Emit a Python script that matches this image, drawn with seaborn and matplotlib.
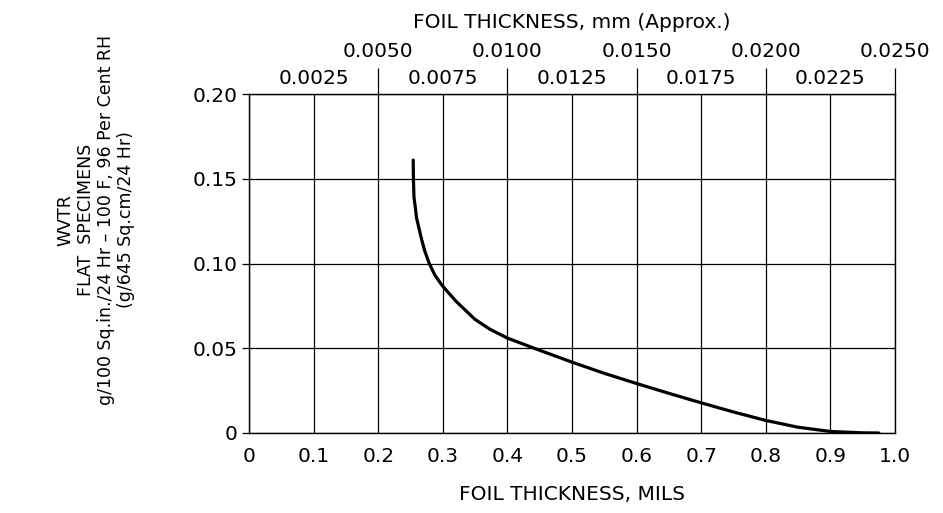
import matplotlib
matplotlib.use("Agg")
import matplotlib.pyplot as plt
import seaborn as sns
import pandas as pd

# curve (thickness in mils, WVTR)
mils = [0.2542, 0.2545, 0.2554, 0.2575, 0.2593, 0.263, 0.267, 0.272, 0.279, 0.288,
        0.299, 0.321, 0.350, 0.373, 0.400, 0.445, 0.500, 0.550, 0.600, 0.650,
        0.700, 0.750, 0.800, 0.850, 0.900, 0.950, 0.975]
wvtr = [0.161, 0.150, 0.139, 0.133, 0.127, 0.121, 0.1145, 0.1075, 0.100, 0.093,
        0.087, 0.0775, 0.0670, 0.0612, 0.0560, 0.0495, 0.0418, 0.0352, 0.0292, 0.0234,
        0.0178, 0.0124, 0.0074, 0.0034, 0.0009, 0.0001, 0.0]

x_ticks = [0, 0.1, 0.2, 0.3, 0.4, 0.5, 0.6, 0.7, 0.8, 0.9, 1.0]
x_labels = ["0", "0.1", "0.2", "0.3", "0.4", "0.5", "0.6", "0.7", "0.8", "0.9", "1.0"]
y_ticks = [0, 0.05, 0.10, 0.15, 0.20]
y_labels = ["0", "0.05", "0.10", "0.15", "0.20"]

# top axis in mm (approx, 1 mil ~ 0.025 mm on this chart)
mm_major = [0.0050, 0.0100, 0.0150, 0.0200, 0.0250]
mm_minor = [0.0025, 0.0075, 0.0125, 0.0175, 0.0225]

sns.set_style("white")
plt.rcParams["font.family"] = ["DejaVu Sans"]
plt.rcParams["text.color"] = "black"
plt.rcParams["axes.labelcolor"] = "black"
plt.rcParams["xtick.color"] = "black"
plt.rcParams["ytick.color"] = "black"

df = pd.DataFrame({"mils": mils, "wvtr": wvtr})

fig = plt.figure(figsize=(9.43, 5.13), dpi=100)
ax = fig.add_axes([249 / 943, 1 - 433 / 513, (895 - 249) / 943, (433 - 94) / 513])

sns.lineplot(data=df, x="mils", y="wvtr", ax=ax, color="black", linewidth=2.3,
             sort=False, estimator=None)
ax.lines[0].set_solid_joinstyle("round")

ax.set_xlim(0, 1.0)
ax.set_ylim(0, 0.20)
ax.set_xticks(x_ticks)
ax.set_xticklabels(x_labels, fontsize=14.5)
ax.set_yticks(y_ticks)
ax.set_yticklabels(y_labels, fontsize=14.5)
ax.tick_params(axis="x", length=0, pad=10)
ax.tick_params(axis="y", length=5, width=0.9, pad=3, direction="out", left=True)
ax.grid(True, color="black", linewidth=0.9)
ax.set_axisbelow(True)
for side in ["left", "bottom", "top", "right"]:
    ax.spines[side].set_visible(True)
    ax.spines[side].set_color("black")
    ax.spines[side].set_linewidth(1.0)
ax.set_xlabel("FOIL THICKNESS, MILS", fontsize=14.5, labelpad=14)
ax.set_ylabel("")

top = ax.twiny()
top.set_xlim(0, 0.025)
top.set_xticks(mm_major)
top.set_xticklabels([f"{v:.4f}" for v in mm_major], fontsize=14.5)
top.set_xticks(mm_minor, minor=True)
top.set_xticklabels([f"{v:.4f}" for v in mm_minor], minor=True, fontsize=14.5)
top.tick_params(axis="x", which="major", length=19, width=0.9, pad=5, direction="out", top=True)
top.tick_params(axis="x", which="minor", length=0, pad=4, top=True)
for side in ["left", "bottom", "right", "top"]:
    top.spines[side].set_visible(False)
top.set_xlabel("FOIL THICKNESS, mm (Approx.)", fontsize=14.5, labelpad=10)

fig.text(96 / 943, 1 - 220 / 513,
         "WVTR\nFLAT  SPECIMENS\ng/100 Sq.in./24 Hr \u2013 100 F, 96 Per Cent RH\n(g/645 Sq.cm/24 Hr)",
         rotation=90, ha="center", va="center", multialignment="center", fontsize=12.5,
         linespacing=1.15)

fig.savefig("out.png", dpi=100)
